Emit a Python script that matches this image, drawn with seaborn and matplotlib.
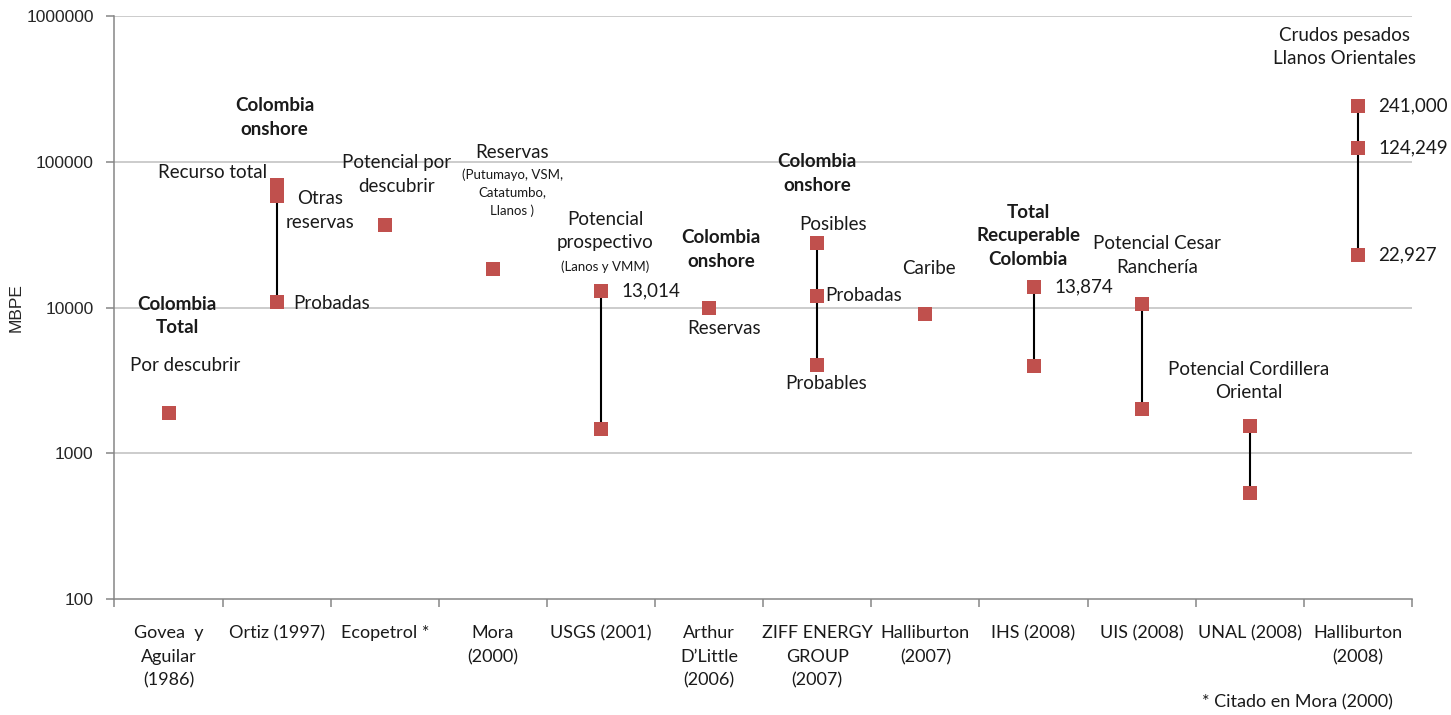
import numpy as np
import pandas as pd
import matplotlib
matplotlib.use("Agg")
import matplotlib.pyplot as plt
import seaborn as sns

# Sources (x axis) and their estimates in MBPE
categories = [
    "Govea  y\nAguilar\n(1986)", "Ortiz (1997)", "Ecopetrol *", "Mora\n(2000)",
    "USGS (2001)", "Arthur\nD\u2019Little\n(2006)", "ZIFF ENERGY\nGROUP\n(2007)",
    "Halliburton\n(2007)", "IHS (2008)", "UIS (2008)", "UNAL (2008)",
    "Halliburton\n(2008)",
]
govea = [1890]
ortiz = [69000, 58000, 10900]
ecopetrol = [36800]
mora = [18400]
usgs = [13014, 1470]
arthur = [9900]
ziff = [27700, 12000, 4030]
halliburton_2007 = [9020]
ihs = [13874, 3970]
uis = [10570, 2010]
unal = [1540, 533]
halliburton_2008 = [241000, 124249, 22927]

series = [govea, ortiz, ecopetrol, mora, usgs, arthur, ziff,
          halliburton_2007, ihs, uis, unal, halliburton_2008]
yticks = [100, 1000, 10000, 100000, 1000000]

rows = [(i, v) for i, vals in enumerate(series) for v in vals]
df = pd.DataFrame(rows, columns=["pos", "MBPE"])

sns.set_theme(style="white")
plt.rcParams["font.family"] = ["Lato", "DejaVu Sans"]

fig = plt.figure(figsize=(14.51, 7.15), dpi=100)
ax = fig.add_axes([0.0789, 0.1622, 0.8942, 0.8154])
ax.set_yscale("log")
ax.set_ylim(100, 1000000)
ax.set_xlim(-0.5, len(categories) - 0.5)

# grid lines at each decade
for t in yticks[1:]:
    ax.axhline(t, color="#bfbfbf", lw=1.1, zorder=0)

# range lines between min and max of each source
rng = df.groupby("pos")["MBPE"].agg(["min", "max"]).reset_index()
rng = rng[rng["min"] < rng["max"]]
ax.vlines(rng["pos"], rng["min"], rng["max"], color="black", lw=1.5, zorder=2)

sns.scatterplot(data=df, x="pos", y="MBPE", marker="s", s=95, color="#C0504D",
                linewidth=0, ax=ax, zorder=3, legend=False)

# axes styling
for s in ["top", "right"]:
    ax.spines[s].set_visible(False)
for s in ["left", "bottom"]:
    ax.spines[s].set_color("#868686")
    ax.spines[s].set_linewidth(1.1)

ax.set_yticks(yticks)
ax.set_yticklabels([str(t) for t in yticks], fontfamily="Liberation Sans",
                   fontsize=12.5, color="#262626")
ax.yaxis.set_minor_locator(matplotlib.ticker.NullLocator())
ax.tick_params(axis="y", which="major", direction="out", length=6, width=1.1,
               color="#868686", pad=9, left=True)
ax.set_ylabel("MBPE", fontfamily="Liberation Sans", fontsize=12.5,
              color="#262626", labelpad=2)

bounds = np.arange(-0.5, len(categories), 1.0)
ax.set_xticks(bounds)
ax.set_xticklabels([""] * len(bounds))
ax.tick_params(axis="x", which="major", direction="out", length=6, width=1.1,
               color="#868686", bottom=True)
ax.set_xticks(np.arange(len(categories)), minor=True)
ax.set_xticklabels(categories, minor=True, fontsize=13, color="#1a1a1a",
                   linespacing=1.57)
ax.tick_params(axis="x", which="minor", length=0, pad=19)
ax.set_xlabel("")

txt_kw = dict(fontsize=13.5, color="#1a1a1a", linespacing=1.45)


def lab(pos, dx, ly, text, ha="center", bold=False, size=13.5, ls=1.45):
    ax.text(pos + dx, 10 ** ly, text, ha=ha, va="center",
            fontweight="bold" if bold else "normal",
            **{**txt_kw, "fontsize": size, "linespacing": ls})


def val(pos, dx, v, text):
    ax.text(pos + dx, v, text, ha="left", va="center", **txt_kw)


lab(0, 0.08, 3.942, "Colombia\nTotal", bold=True)
lab(0, 0.15, 3.605, "Por descubrir")

lab(1, -0.02, 5.304, "Colombia\nonshore", bold=True)
lab(1, -0.09, 4.923, "Recurso total", ha="right")
lab(1, 0.40, 4.666, "Otras\nreservas")
lab(1, 0.15, 4.031, "Probadas", ha="left")

lab(2, 0.11, 4.912, "Potencial por\ndescubrir")

lab(3, 0.18, 5.067, "Reservas")
lab(3, 0.18, 4.789, "(Putumayo, VSM,\nCatatumbo,\nLlanos )", size=9.5, ls=1.55)

lab(4, 0.04, 4.525, "Potencial\nprospectivo")
lab(4, 0.04, 4.278, "(Lanos y VMM)", size=9.5)
val(4, 0.19, usgs[0], f"{usgs[0]:,}")

lab(5, 0.11, 4.398, "Colombia\nonshore", bold=True)
lab(5, 0.14, 3.859, "Reservas")

lab(6, 0.0, 4.919, "Colombia\nonshore", bold=True)
lab(6, 0.15, 4.573, "Posibles")
val(6, 0.07, ziff[1], "Probadas")
lab(6, 0.08, 3.482, "Probables")

lab(7, 0.03, 4.271, "Caribe")

lab(8, -0.05, 4.491, "Total\nRecuperable\nColombia", bold=True)
val(8, 0.19, ihs[0], f"{ihs[0]:,}")

lab(9, 0.14, 4.357, "Potencial Cesar\nRanchería")

lab(10, -0.01, 3.496, "Potencial Cordillera\nOriental")

lab(11, -0.12, 5.787, "Crudos pesados\nLlanos Orientales")
for v in halliburton_2008:
    val(11, 0.19, v, f"{v:,}")

fig.text(0.894, 0.017, "* Citado en Mora (2000)", ha="center", va="center",
         fontsize=13, color="#1a1a1a")

fig.savefig("out.png", dpi=100)
